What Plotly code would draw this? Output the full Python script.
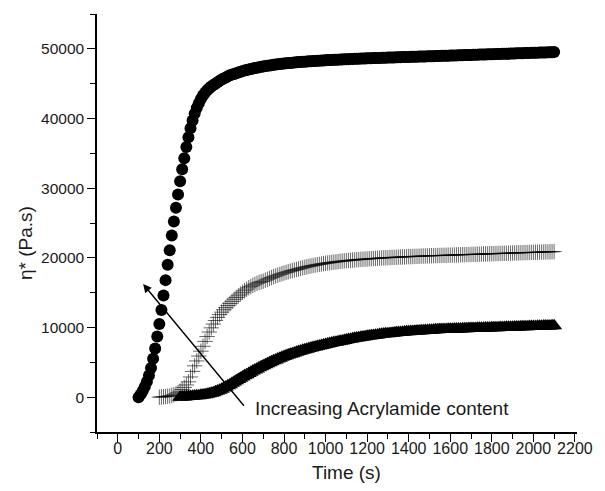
import plotly.graph_objects as go

# ---- data ----
t_circle_start = 100
circle_vals = [
    0, 400, 900, 1500, 2200, 3100, 4200, 5500, 7000, 8700,
    10500, 12500, 14600, 16800, 19000, 21100, 23200, 25200, 27200, 29100,
    31000, 32700, 34300, 35900, 37300, 38600, 39700, 40700, 41500, 42200,
    42800, 43300, 43700, 44050, 44350, 44600, 44800, 45000, 45200, 45400,
    45600, 45750, 45900, 46050, 46200, 46300, 46400, 46500, 46600, 46700,
    46800, 46880, 46960, 47040, 47110, 47180, 47240, 47300, 47360, 47420,
    47470, 47520, 47570, 47620, 47660, 47700, 47740, 47780, 47820, 47860,
    47890, 47920, 47950, 47980, 48010, 48040, 48070, 48100, 48120, 48140,
    48160, 48180, 48200, 48220, 48240, 48260, 48280, 48300, 48320, 48340,
    48360, 48380, 48400, 48410, 48420, 48440, 48450, 48470, 48480, 48500,
    48510, 48520, 48540, 48550, 48560, 48580, 48590, 48600, 48610, 48620,
    48640, 48650, 48660, 48670, 48680, 48690, 48700, 48710, 48720, 48730,
    48740, 48750, 48760, 48770, 48780, 48790, 48800, 48810, 48820, 48830,
    48840, 48850, 48860, 48870, 48880, 48890, 48900, 48905, 48910, 48920,
    48930, 48940, 48950, 48960, 48970, 48980, 48990, 49000, 49010, 49020,
    49030, 49040, 49050, 49060, 49070, 49080, 49090, 49100, 49110, 49120,
    49130, 49140, 49150, 49160, 49170, 49180, 49190, 49200, 49210, 49220,
    49230, 49240, 49250, 49260, 49270, 49280, 49290, 49300, 49310, 49320,
    49330, 49340, 49350, 49360, 49370, 49380, 49390, 49400, 49410, 49420,
    49430, 49440, 49450, 49460, 49470, 49480, 49490, 49500, 49510, 49520,
    49530,
]

t_cross_start = 200
cross_vals = [
    0, 30, 60, 90, 130, 170, 250, 350, 480, 650,
    850, 1100, 1400, 1750, 2200, 2900, 3700, 4500, 5200, 5900,
    6600, 7300, 8000, 8700, 9350, 9950, 10500, 11000, 11450, 11850,
    12200, 12550, 12850, 13150, 13450, 13750, 14050, 14300, 14550, 14800,
    15050, 15280, 15500, 15700, 15880, 16050, 16200, 16340, 16470, 16560,
    16650, 16790, 16920, 17050, 17170, 17290, 17400, 17510, 17620, 17720,
    17820, 17910, 18000, 18090, 18170, 18250, 18330, 18410, 18490, 18570,
    18640, 18710, 18780, 18840, 18900, 18960, 19020, 19070, 19120, 19170,
    19220, 19260, 19300, 19340, 19380, 19420, 19460, 19500, 19530, 19560,
    19590, 19620, 19650, 19680, 19700, 19730, 19750, 19780, 19800, 19820,
    19840, 19860, 19880, 19900, 19920, 19940, 19960, 19980, 20000, 20010,
    20030, 20040, 20060, 20070, 20090, 20100, 20120, 20130, 20140, 20160,
    20170, 20180, 20200, 20210, 20220, 20230, 20250, 20260, 20270, 20280,
    20290, 20300, 20310, 20320, 20330, 20340, 20350, 20360, 20370, 20380,
    20390, 20400, 20410, 20420, 20430, 20440, 20450, 20460, 20470, 20480,
    20490, 20500, 20510, 20520, 20530, 20540, 20550, 20560, 20570, 20580,
    20590, 20600, 20610, 20620, 20630, 20640, 20650, 20660, 20670, 20680,
    20690, 20700, 20710, 20720, 20730, 20740, 20750, 20760, 20770, 20780,
    20790, 20800, 20810, 20820, 20830, 20840, 20850, 20860, 20870, 20880,
    20890,
]

t_tri_start = 300
tri_vals = [
    0, 20, 40, 60, 80, 100, 130, 160, 190, 220,
    260, 300, 350, 410, 480, 560, 650, 760, 880, 1010,
    1150, 1300, 1460, 1630, 1800, 1980, 2160, 2340, 2520, 2700,
    2880, 3060, 3230, 3400, 3570, 3740, 3900, 4060, 4220, 4370,
    4520, 4670, 4810, 4950, 5090, 5220, 5350, 5480, 5600, 5720,
    5830, 5940, 6050, 6150, 6250, 6350, 6450, 6540, 6630, 6720,
    6810, 6890, 6970, 7050, 7130, 7200, 7270, 7340, 7410, 7480,
    7560, 7630, 7700, 7770, 7840, 7900, 7960, 8020, 8080, 8140,
    8200, 8260, 8320, 8380, 8440, 8490, 8540, 8590, 8640, 8690,
    8740, 8780, 8820, 8860, 8900, 8940, 8980, 9020, 9060, 9090,
    9120, 9150, 9180, 9210, 9240, 9270, 9300, 9330, 9360, 9380,
    9400, 9420, 9440, 9460, 9480, 9500, 9520, 9540, 9560, 9580,
    9600, 9620, 9640, 9660, 9680, 9700, 9710, 9720, 9730, 9740,
    9750, 9760, 9770, 9780, 9790, 9800, 9810, 9820, 9830, 9840,
    9850, 9860, 9870, 9880, 9890, 9900, 9910, 9920, 9930, 9940,
    9950, 9960, 9970, 9980, 9990, 10000, 10010, 10020, 10030, 10040,
    10050, 10060, 10070, 10080, 10090, 10100, 10110, 10120, 10130, 10140,
    10150, 10160, 10170, 10180, 10190, 10200, 10210, 10220, 10230, 10240,
    10250,
]

step = 10  # sampling interval (s)
t_circle = [t_circle_start + step * i for i in range(len(circle_vals))]
t_cross = [t_cross_start + step * i for i in range(len(cross_vals))]
t_tri = [t_tri_start + step * i for i in range(len(tri_vals))]

x_title = "Time (s)"
y_title = "η* (Pa.s)"
note_text = "Increasing Acrylamide content"
arrow_head = (122, 16240)
arrow_tail = (613, -1440)
note_pos = (650, -1580)

FONT = "Liberation Sans, Arial, sans-serif"
TXT = "#1a1a1a"

fig = go.Figure()
fig.add_trace(go.Scatter(
    x=t_tri, y=tri_vals, mode="markers",
    marker=dict(symbol="triangle-up", size=14, color="black", line=dict(width=0)),
    showlegend=False))
fig.add_trace(go.Scatter(
    x=t_cross, y=cross_vals, mode="markers",
    marker=dict(symbol="cross-thin", size=11, color="rgba(0,0,0,0.6)",
                line=dict(width=1, color="rgba(0,0,0,0.6)")),
    showlegend=False))
fig.add_trace(go.Scatter(
    x=t_circle, y=circle_vals, mode="markers",
    marker=dict(symbol="circle", size=12, color="black", line=dict(width=0)),
    showlegend=False))

fig.add_annotation(x=arrow_head[0], y=arrow_head[1], ax=arrow_tail[0], ay=arrow_tail[1],
                   xref="x", yref="y", axref="x", ayref="y", text="",
                   showarrow=True, arrowhead=2, arrowsize=1.2, arrowwidth=1.4,
                   arrowcolor="black", standoff=0, startstandoff=0)
fig.add_annotation(x=note_pos[0], y=note_pos[1], xref="x", yref="y",
                   text=note_text, showarrow=False, xanchor="left", yanchor="middle",
                   font=dict(family=FONT, size=19, color=TXT))
fig.add_annotation(x=0.519, y=-0.098, xref="paper", yref="paper", text=x_title,
                   showarrow=False, xanchor="center", yanchor="middle",
                   font=dict(family=FONT, size=19, color=TXT))
fig.add_annotation(x=-0.15, y=0.452, xref="paper", yref="paper", text=y_title,
                   textangle=-90, showarrow=False, xanchor="center", yanchor="middle",
                   font=dict(family=FONT, size=19, color=TXT))

axis_common = dict(showgrid=False, zeroline=False, showline=True, linecolor="black",
                   linewidth=1.5, ticks="outside", ticklen=8, tickwidth=1.2,
                   tickcolor="black", mirror=False, tickformat="d")
fig.update_xaxes(range=[-100, 2210], tick0=0, dtick=200, ticklabelstandoff=-7,
                 tickfont=dict(family=FONT, size=16, color=TXT),
                 minor=dict(dtick=100, tick0=0, ticks="outside", ticklen=5,
                            tickwidth=1.2, tickcolor="black"),
                 **axis_common)
fig.update_yaxes(range=[-5000, 55000], tick0=0, dtick=10000,
                 tickfont=dict(family=FONT, size=15.5, color=TXT),
                 minor=dict(dtick=5000, tick0=0, ticks="outside", ticklen=5,
                            tickwidth=1.2, tickcolor="black"),
                 **axis_common)

fig.update_layout(width=605, height=491, margin=dict(l=97, r=17, t=14, b=59),
                  paper_bgcolor="white", plot_bgcolor="white",
                  font=dict(family=FONT, color=TXT))

fig.write_html("out.html")
